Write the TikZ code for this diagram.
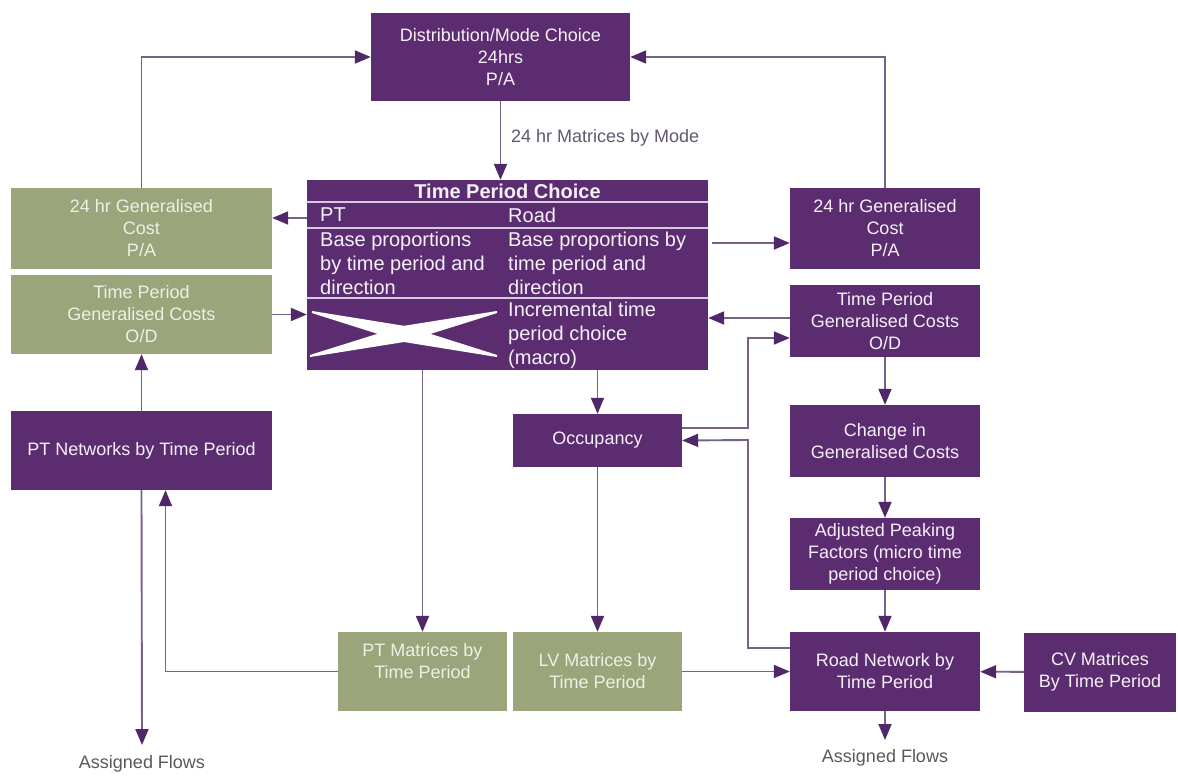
\documentclass[tikz,border=0pt]{standalone}
\usepackage{fontspec}
\setmainfont{Liberation Sans}
\usetikzlibrary{arrows.meta}

\definecolor{tpurple}{RGB}{91,45,112}
\definecolor{tgreen}{RGB}{154,165,124}
\definecolor{ptext}{RGB}{246,240,249}
\definecolor{gtext}{RGB}{238,240,228}
\definecolor{tline}{RGB}{118,98,134}
\definecolor{thead}{RGB}{80,40,104}
\definecolor{tsep}{RGB}{214,202,222}
\definecolor{tnote}{RGB}{98,88,110}
\definecolor{tgrey}{RGB}{88,88,88}

\begin{document}
\begin{tikzpicture}[x=1pt,y=-1pt,
    pbox/.style={fill=tpurple, text=ptext, align=center, inner sep=2pt,
                 font=\fontsize{18}{22}\selectfont},
    gbox/.style={pbox, fill=tgreen, text=gtext},
    cell/.style={text=ptext, align=left, inner sep=2pt, font=\fontsize{20}{24}\selectfont},
    flow/.style={draw=tline, line width=1.9pt,
                 -{Triangle[length=16pt,width=13pt,color=thead]}},
    sep/.style={draw=tsep, line width=1.8pt},
    note/.style={inner sep=2pt, font=\fontsize{18}{22}\selectfont}]
  \useasboundingbox (0,0) rectangle (1178,779);

  % top
  \node[pbox, minimum width=259pt, minimum height=88pt] (dist) at (500.5,57)
    {Distribution/Mode Choice\\24hrs\\P/A};
  \node[note, text=tnote, anchor=west] (mlabel) at (509,138) {24 hr Matrices by Mode};

  % time period choice table
  \node[fill=tpurple, minimum width=401pt, minimum height=190pt, inner sep=0pt] (tpc) at (507.5,275) {};
  \draw[sep] (tpc.west |- 0,202) -- (tpc.east |- 0,202);
  \draw[sep] (tpc.west |- 0,228) -- (tpc.east |- 0,228);
  \draw[sep] (tpc.west |- 0,298) -- (tpc.east |- 0,298);
  \node[cell, font=\fontsize{20}{24}\selectfont\bfseries] (tpcTitle) at (507.5,191) {Time Period Choice};
  \node[cell, anchor=west] (ptHead) at (318,215) {PT};
  \node[cell, anchor=west] (roadHead) at (506,215) {Road};
  \node[cell, anchor=west] (ptBase) at (318,263) {Base proportions\\by time period and\\direction};
  \node[cell, anchor=west] (roadBase) at (506,263) {Base proportions by\\time period and\\direction};
  \node[cell, anchor=west] (roadInc) at (506,335) {Incremental time\\period choice\\(macro)};
  \fill[white] (312.2,311) -- (406.3,326.2) -- (497.2,355) -- (496.8,357) -- (402.7,341.8) -- (311.8,313) -- cycle;
  \fill[white] (309.8,355) -- (401.7,326.2) -- (496.8,311) -- (497.2,313) -- (405.3,341.8) -- (310.2,357) -- cycle;

  % left column
  \node[gbox, minimum width=261pt, minimum height=81pt] (gcL) at (141.5,228.5)
    {24 hr Generalised\\Cost\\P/A};
  \node[gbox, minimum width=261pt, minimum height=79pt] (tpL) at (141.5,314.5)
    {Time Period\\Generalised Costs\\O/D};
  \node[pbox, minimum width=261pt, minimum height=79pt] (ptnet) at (141.5,450.5)
    {PT Networks by Time Period};
  \node[note, text=tgrey, anchor=north] (afL) at (142,753) {Assigned Flows};

  % right column
  \node[pbox, minimum width=190pt, minimum height=81pt] (gcR) at (885,228.5)
    {24 hr Generalised\\Cost\\P/A};
  \node[pbox, minimum width=190pt, minimum height=72pt] (tpR) at (885,321)
    {Time Period\\Generalised Costs\\O/D};
  \node[pbox, minimum width=190pt, minimum height=72pt] (chg) at (885,441)
    {Change in\\Generalised Costs};
  \node[pbox, minimum width=190pt, minimum height=72pt] (adj) at (885,554)
    {Adjusted Peaking\\Factors (micro time\\period choice)};
  \node[pbox, minimum width=190pt, minimum height=79pt] (road) at (885,671.5)
    {Road Network by\\Time Period};
  \node[pbox, minimum width=152pt, minimum height=79pt] (cv) at (1100,672)
    {CV Matrices\\By Time Period};
  \node[note, text=tgrey, anchor=north] (afR) at (885,747) {Assigned Flows};

  % middle
  \node[pbox, minimum width=169pt, minimum height=53pt] (occ) at (597.5,440.5) {Occupancy};
  \node[gbox, minimum width=169pt, minimum height=79pt] (ptm) at (422.5,671.5)
    {PT Matrices by\\Time Period\\~};
  \node[gbox, minimum width=169pt, minimum height=79pt] (lvm) at (597.5,671.5)
    {LV Matrices by\\Time Period};

  % connectors
  \draw[flow] (gcL.north) |- (dist.west);
  \draw[flow] (gcR.north) |- (dist.east);
  \draw[flow] (dist.south) -- (dist.south |- tpc.north);
  \draw[flow] (tpc.west |- 0,218) -- (gcL.east |- 0,218);
  \draw[flow] ([xshift=4pt]tpc.east |- 0,243) -- (gcR.west |- 0,243);
  \draw[flow] (tpL.east) -- (tpc.west |- tpL.east);
  \draw[flow] (tpR.west |- 0,318) -- (tpc.east |- 0,318);
  \draw[flow] (occ.east |- 0,428) -| (748,338) -- (tpR.west |- 0,338);
  \draw[flow] (road.west |- 0,648) -| (748,440) -- (occ.east);
  \draw[flow] (ptm.north |- tpc.south) -- (ptm.north);
  \draw[flow] (occ.north |- tpc.south) -- (occ.north);
  \draw[flow] (occ) -- (lvm);
  \draw[flow] (lvm) -- (road);
  \draw[flow] (cv) -- (road);
  \draw[flow] (tpR) -- (chg);
  \draw[flow] (chg) -- (adj);
  \draw[flow] (adj) -- (road);
  \draw[flow] (road.south) -- ([yshift=7pt]afR.north);
  \draw[flow] (ptnet) -- (tpL);
  \draw[flow] (ptnet.south) -- ([yshift=8pt]afL.north);
  \draw[flow] (ptm.west) -| ([xshift=24pt]ptnet.south);
\end{tikzpicture}
\end{document}
